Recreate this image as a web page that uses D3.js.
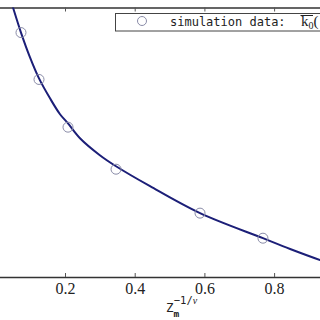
<!DOCTYPE html>
<html><head><meta charset="utf-8">
<script src="https://cdn.jsdelivr.net/npm/d3@7"></script>
<style>body{margin:0;background:#fff}svg{display:block}</style>
</head><body>
<script>
// data
const xTicks = [0, 0.2, 0.4, 0.6, 0.8];
const tickLabels = ["0", "0.2", "0.4", "0.6", "0.8"];
const simX = [0.0737, 0.1254, 0.2086, 0.3464, 0.5874, 0.768];
const simY = [0.907, 0.733, 0.556, 0.400, 0.237, 0.144];
const fitX = [0.040, 0.0508, 0.0737, 0.0996, 0.1254, 0.157, 0.1857, 0.2086, 0.243, 0.300, 0.3464, 0.444, 0.5874, 0.768, 0.846, 0.932, 0.97];
const fitY = [1.045, 1.000, 0.907, 0.815, 0.737, 0.663, 0.604, 0.570, 0.515, 0.452, 0.411, 0.337, 0.237, 0.144, 0.104, 0.063, 0.047];
const legendLabel = "simulation data:";

const W = 320, H = 320;
const svg = d3.select("body").append("svg").attr("width", W).attr("height", H);
const x = d3.scaleLinear().domain([0, 1]).range([-4.7, 343.8]);
const y = d3.scaleLinear().domain([0, 1]).range([277, 7.5]);

svg.append("defs").append("clipPath").attr("id", "clip")
  .append("rect").attr("x", -10).attr("y", 7.5).attr("width", 400).attr("height", 269.5);

const serif = "'Liberation Serif', 'DejaVu Serif', serif";
const mono = "'DejaVu Sans Mono', 'Liberation Mono', monospace";

// bottom axis
const xAxis = d3.axisBottom(x).tickValues(xTicks).tickSize(-4).tickPadding(6)
  .tickFormat((d, i) => tickLabels[i]);
const gx = svg.append("g").attr("transform", "translate(0,277)").call(xAxis)
  .attr("font-family", null);
gx.select(".domain").attr("stroke", "#333").attr("stroke-width", 1.4);
gx.selectAll(".tick line").attr("stroke", "#555").attr("stroke-width", 1);
gx.selectAll(".tick text").style("font-family", serif)
  .style("font-size", "16px").attr("fill", "#222");

// top axis (frame)
const xTop = d3.axisTop(x).tickValues(xTicks).tickSize(-4).tickFormat("");
const gt = svg.append("g").attr("transform", "translate(0,7.5)").call(xTop);
gt.select(".domain").attr("stroke", "#333").attr("stroke-width", 1.4);
gt.selectAll(".tick line").attr("stroke", "#555").attr("stroke-width", 1);

const plot = svg.append("g").attr("clip-path", "url(#clip)");
const line = d3.line().x(d => x(d[0])).y(d => y(d[1])).curve(d3.curveCatmullRom);
plot.append("path").datum(fitX.map((v, i) => [v, fitY[i]]))
  .attr("d", line).attr("fill", "none").attr("stroke", "#1c1f78").attr("stroke-width", 2);

plot.selectAll("circle.sim").data(simX.map((v, i) => [v, simY[i]])).enter()
  .append("circle").attr("class", "sim")
  .attr("cx", d => x(d[0])).attr("cy", d => y(d[1])).attr("r", 5)
  .attr("fill", "none").attr("stroke", "#8a8ca8").attr("stroke-width", 1);

// legend
const lg = svg.append("g");
lg.append("rect").attr("x", 115.5).attr("y", 13.5).attr("width", 240).attr("height", 17.5)
  .attr("fill", "#fff").attr("stroke", "#444").attr("stroke-width", 1);
lg.append("circle").attr("cx", 142).attr("cy", 21).attr("r", 4.5)
  .attr("fill", "none").attr("stroke", "#8a8ca8").attr("stroke-width", 1);
lg.append("text").attr("x", 170).attr("y", 26).style("font-family", mono)
  .style("font-size", "12px").attr("fill", "#222").text(legendLabel);
const kt = lg.append("text").attr("x", 301).attr("y", 26).style("font-family", serif)
  .style("font-size", "15px").attr("fill", "#222");
kt.append("tspan").text("k");
kt.append("tspan").style("font-size", "10px").attr("dy", 3).text("0");
kt.append("tspan").attr("dy", -3).text("(");
lg.append("line").attr("x1", 300.5).attr("x2", 313).attr("y1", 15.5).attr("y2", 15.5)
  .attr("stroke", "#222").attr("stroke-width", 1);

// x axis label
const xl = svg.append("text").attr("x", 166).attr("y", 312).style("font-family", mono)
  .style("font-size", "12.5px").attr("fill", "#222");
xl.append("tspan").text("Z");
xl.append("tspan").style("font-size", "9.5px").style("font-weight", "bold").attr("dy", 4.5).text("m");
xl.append("tspan").style("font-size", "10.5px").attr("dy", -12.5).attr("dx", -5.5).text("−1/");
xl.append("tspan").style("font-family", serif).style("font-style", "italic")
  .style("font-size", "10px").text("ν");
</script>
</body></html>
